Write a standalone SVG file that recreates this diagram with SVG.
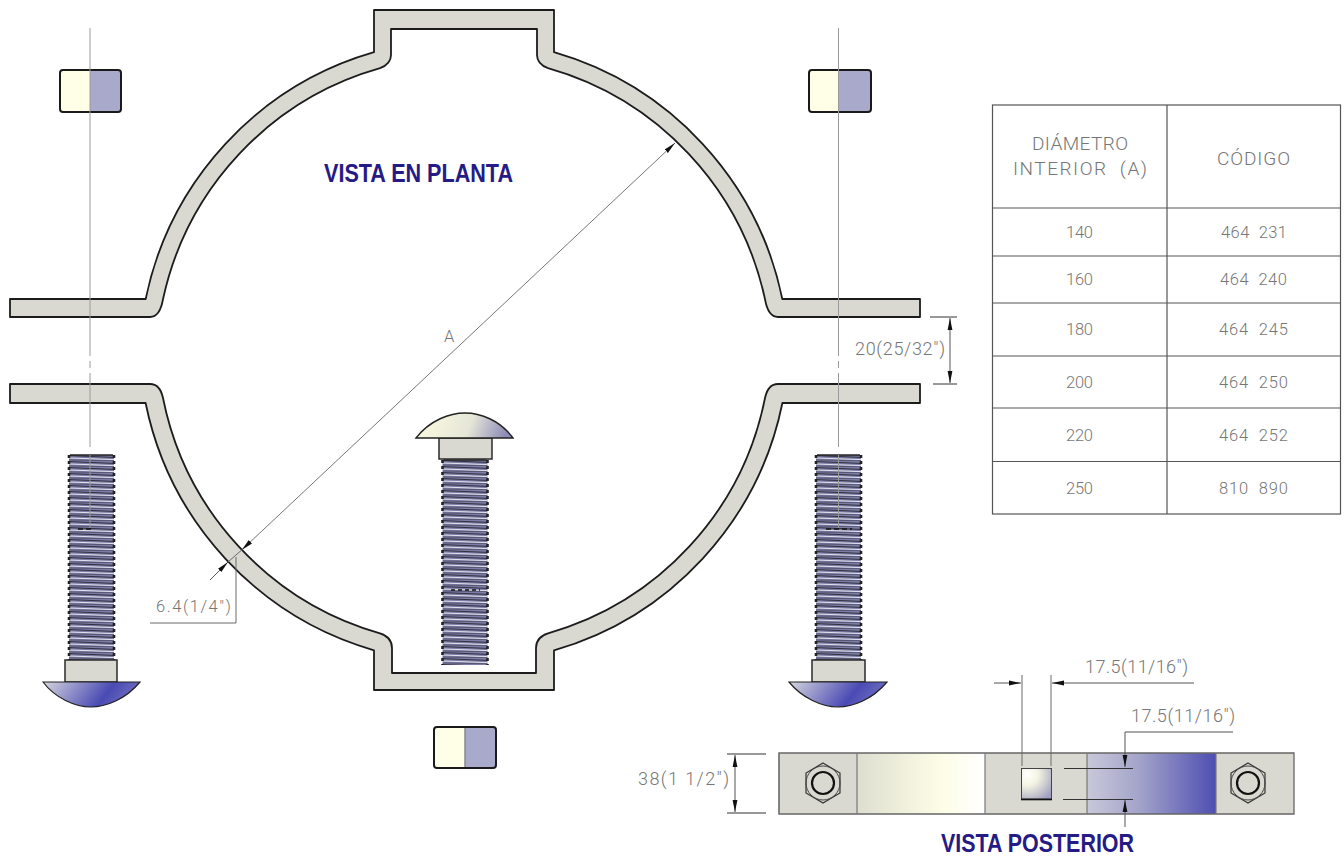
<svg xmlns="http://www.w3.org/2000/svg" xmlns:xlink="http://www.w3.org/1999/xlink" width="1344" height="858" viewBox="0 0 1344 858">
<style>
.body{fill:#d9d9d1;stroke:#1c1c1c;stroke-width:1.8;stroke-linejoin:round}
.plain{fill:#d9d9d1;stroke:#2a2a2a;stroke-width:1.5}
.cl{stroke:#9a9a9a;stroke-width:1;fill:none}
.dim{stroke:#6a6a6a;stroke-width:1;fill:none}
.dimd{stroke:#333;stroke-width:1;fill:none}
.ar{stroke:#555;stroke-width:1;fill:none;marker-start:url(#ah);marker-end:url(#ah)}
.ar1{stroke:#555;stroke-width:1;fill:none;marker-end:url(#ah)}
.t{font-family:Roboto,"Liberation Sans",Arial,sans-serif;font-weight:300;fill:#767676;font-size:16.5px}
.d{font-family:Roboto,"Liberation Sans",Arial,sans-serif;font-weight:300;fill:#767676;font-size:18px}
.hd{font-family:Roboto,"Liberation Sans",Arial,sans-serif;font-weight:300;fill:#767676;font-size:19px}
.title{font-family:"Liberation Sans",Arial,sans-serif;font-weight:700;fill:#261a86;font-size:26px}
.grid{stroke:#555;stroke-width:1.2;fill:none}
.nutl{stroke:#1a1a1a;stroke-width:2;fill:none}
</style>
<defs>
<marker id="ah" markerUnits="userSpaceOnUse" markerWidth="13" markerHeight="6" refX="12" refY="3" orient="auto-start-reverse"><path d="M0,0.6 L12,3 L0,5.4Z" fill="#111"/></marker>
<linearGradient id="headB" x1="0" y1="0" x2="1" y2="0.2"><stop offset="0" stop-color="#d6d6de"/><stop offset=".72" stop-color="#4a4ab4"/><stop offset="1" stop-color="#6c6cc0"/></linearGradient>
<linearGradient id="headY" x1="0" y1="0" x2="1" y2="0.1"><stop offset="0" stop-color="#fcfce0"/><stop offset=".6" stop-color="#e6e6d8"/><stop offset="1" stop-color="#8c8cb8"/></linearGradient>
<linearGradient id="gy" x1="0" y1="0" x2="1" y2="0"><stop offset="0" stop-color="#deded0"/><stop offset=".65" stop-color="#fdfde6"/><stop offset="1" stop-color="#ffffff"/></linearGradient>
<linearGradient id="gb" x1="0" y1="0" x2="1" y2="0"><stop offset="0" stop-color="#c8c8da"/><stop offset=".4" stop-color="#a4a4ca"/><stop offset="1" stop-color="#4e4eb2"/></linearGradient>
<radialGradient id="gs" cx=".2" cy=".2" r="1"><stop offset="0" stop-color="#ffffff"/><stop offset=".35" stop-color="#f4f4e4"/><stop offset=".6" stop-color="#d4d4d4"/><stop offset="1" stop-color="#9e9ec0"/></radialGradient>
<pattern id="th" patternUnits="userSpaceOnUse" width="45" height="6">
<rect width="45" height="6" fill="#7c7ca6"/>
<path d="M0,0.6 L45,2.4" stroke="#2e2e3c" stroke-width="1" fill="none"/>
<path d="M0,3 L45,4.6" stroke="#eeeef4" stroke-width=".9" fill="none"/>
<path d="M0,5 L45,5.8" stroke="#44445a" stroke-width=".7" fill="none"/>
</pattern>
<g id="thread">
<rect x="0" y="0" width="45" height="205" fill="url(#th)"/>
<path d="M0,0 V205 M45,0 V205" stroke="#222" stroke-width="2.6" stroke-dasharray="3 3" fill="none"/>
<path d="M1,0 H44" stroke="#222" stroke-width="1.6" fill="none"/>
</g>
</defs>
<rect width="1344" height="858" fill="#ffffff"/>

<g id="clamp-top">
<path class="body" d="M10,299 H145.700 A325,325 0 0 1 374,52.200 V10 H554 V52.200 A325,325 0 0 1 782.300,299 H920 V317 H778 Q768,317 765,299.200 A308,308 0 0 0 548,68.200 Q537,64 537,55 V29 H391 V55 Q391,64 380,68.200 A308,308 0 0 0 163,299.200 Q160,317 150,317 H10 Z"/>
</g>
<g id="clamp-bottom">
<path class="body" d="M10,384 H150 Q160,384 163,398 A307,307 0 0 0 380,633.300 Q392,637 392,648 V673 H536 V648 Q536,637 548,633.300 A307,307 0 0 0 765,398 Q768,384 778,384 H920 V403 H782.400 A325,325 0 0 1 554,650.300 V690 H374 V650.300 A325,325 0 0 1 145.600,403 H10 Z"/>
</g>

<g id="nut-top-left">
<rect x="60.500" y="70.500" width="30" height="41.500" fill="#ffffe8"/><rect x="90" y="70.500" width="30.500" height="41.500" fill="#a9a9cb"/>
<rect class="nutl" x="60" y="70" width="61" height="42" rx="3"/>
</g>
<g id="nut-top-right">
<rect x="809.500" y="70.500" width="30" height="41.500" fill="#ffffe8"/><rect x="839" y="70.500" width="31.500" height="41.500" fill="#a9a9cb"/>
<rect class="nutl" x="809" y="70" width="62" height="42" rx="3"/>
</g>
<g id="nut-bottom">
<rect x="434.500" y="727.500" width="30" height="40" fill="#ffffe8"/><rect x="465" y="727.500" width="31" height="40" fill="#a9a9cb"/>
<path d="M465,728 V767" stroke="#8a8a8a" stroke-width="1.5"/>
<rect class="nutl" x="434" y="727" width="62" height="41" rx="3"/>
</g>

<g id="bolt-left">
<use xlink:href="#thread" href="#thread" transform="translate(69,455)"/>
<path d="M78,529 H94" stroke="#111" stroke-width="1.5" stroke-dasharray="5 3"/>
<rect class="plain" x="65" y="660" width="52" height="22"/>
<path d="M43,682 H140 C125,700 105,707 91,707 C75,707 55,698 43,682Z" fill="url(#headB)" stroke="#222" stroke-width="1.2"/>
</g>
<g id="bolt-middle">
<use xlink:href="#thread" href="#thread" transform="translate(442.500,460)"/>
<path d="M451,590 H480" stroke="#111" stroke-width="1.5" stroke-dasharray="4 3"/>
<rect class="plain" x="439" y="438" width="53" height="21"/>
<path d="M416,438 C430,420 450,413 465,413 C480,413 500,420 513,438Z" fill="url(#headY)" stroke="#222" stroke-width="1.4"/>
</g>
<g id="bolt-right">
<use xlink:href="#thread" href="#thread" transform="translate(816,455)"/>
<path d="M826,529 H852" stroke="#111" stroke-width="1.5" stroke-dasharray="5 3"/>
<rect class="plain" x="812" y="660" width="53" height="22"/>
<path d="M789,682 H887 C872,700 852,707 838,707 C822,707 802,698 789,682Z" fill="url(#headB)" stroke="#222" stroke-width="1.2"/>
</g>

<g id="centerlines">
<path class="cl" d="M90,28 V356 M90,361 V368 M90,373 V447 M90,455 V528"/>
<path class="cl" d="M838.500,28 V356 M838.500,361 V368 M838.500,373 V447 M838.500,455 V528"/>
</g>

<g id="back-view">
<rect x="779" y="753" width="78" height="61" fill="#d9d9d1"/>
<rect x="857" y="753" width="128" height="61" fill="url(#gy)"/>
<rect x="985" y="753" width="102" height="61" fill="#d9d9d1"/>
<rect x="1087" y="753" width="129" height="61" fill="url(#gb)"/>
<rect x="1216" y="753" width="78" height="61" fill="#d9d9d1"/>
<path d="M779,753 H1294 V814 H779Z" fill="none" stroke="#666" stroke-width="1.3"/>
<path d="M779,753 V814 M857,753 V814 M985,753 V814 M1087,753 V814 M1216,753 V814" stroke="#777" stroke-width="1.2"/>
<rect x="1021.500" y="768.500" width="30" height="30.500" fill="url(#gs)" stroke="#444" stroke-width="1"/>
<path d="M1021,799.500 H1052" stroke="#111" stroke-width="1.6"/>
<g id="back-nut-left" fill="none">
<polygon points="823,763 840,773 840,793 823,803 806,793 806,773" fill="#d9d9d1" stroke="#333" stroke-width="1.2"/>
<circle cx="823" cy="783" r="17" stroke="#444" stroke-width="1"/>
<circle cx="823" cy="783" r="11" stroke="#111" stroke-width="2.2"/>
</g>
<g id="back-nut-right" fill="none">
<polygon points="1248,763 1265,773 1265,793 1248,803 1231,793 1231,773" fill="#d9d9d1" stroke="#333" stroke-width="1.2"/>
<circle cx="1248" cy="783" r="17" stroke="#444" stroke-width="1"/>
<circle cx="1248" cy="783" r="11" stroke="#111" stroke-width="2.2"/>
</g>
</g>

<g id="connectors">
<path class="ar" d="M241.700,550 L675,143" style="stroke:#777"/>
<path class="ar1" d="M210,580 L228,562"/>
<path class="dim" d="M228,562 L241.700,550"/>
<path class="dim" d="M236,557 V623 H150"/>

<path class="dimd" d="M930,317 H957 M933,384 H957"/>
<path class="ar" d="M950,318 V383"/>

<path class="dimd" d="M727,754 H766 M727,813 H766"/>
<path class="ar" d="M735,755 V812"/>

<path class="dim" d="M1022,675 V766 M1051,675 V766"/>
<path class="ar1" d="M994,683 H1021"/>
<path class="ar1" d="M1194,683 H1052"/>

<path class="ar1" d="M1233,732 H1125 V767"/>
<path class="dimd" d="M1064,768.500 H1133 M1063,799.500 H1133"/>
<path class="ar1" d="M1125,827 V800"/>
</g>

<g id="labels">
<text class="title" x="324" y="182" textLength="189" lengthAdjust="spacingAndGlyphs">VISTA EN PLANTA</text>
<text class="title" x="941" y="852" textLength="193" lengthAdjust="spacingAndGlyphs">VISTA POSTERIOR</text>
<text class="t" x="444" y="342">A</text>
<text class="t" x="156" y="612" textLength="75">6.4(1/4")</text>
<text class="d" x="855" y="355" textLength="90">20(25/32")</text>
<text class="d" x="638" y="785" textLength="91">38(1 1/2")</text>
<text class="d" x="1085" y="673" textLength="103">17.5(11/16")</text>
<text class="d" x="1131" y="722" textLength="104">17.5(11/16")</text>
</g>

<g id="table">
<rect class="grid" x="992.500" y="105" width="348" height="409"/>
<path class="grid" d="M1167,105 V514 M992,208 H1341 M992,256 H1341 M992,303 H1341 M992,356 H1341 M992,408 H1341 M992,461.500 H1341"/>
<text class="hd" x="1032" y="150" textLength="96">DIÁMETRO</text>
<text class="hd" x="1013" y="175" textLength="134" xml:space="preserve">INTERIOR  (A)</text>
<text class="hd" x="1217" y="165" textLength="73">CÓDIGO</text>
<text class="t" x="1066" y="238" textLength="27">140</text>
<text class="t" x="1221" y="238" textLength="66" xml:space="preserve">464  231</text>
<text class="t" x="1066" y="285" textLength="27">160</text>
<text class="t" x="1220" y="285" textLength="67" xml:space="preserve">464  240</text>
<text class="t" x="1066" y="335" textLength="27">180</text>
<text class="t" x="1219" y="335" textLength="69" xml:space="preserve">464  245</text>
<text class="t" x="1066" y="388" textLength="27">200</text>
<text class="t" x="1219" y="388" textLength="69" xml:space="preserve">464  250</text>
<text class="t" x="1066" y="441" textLength="27">220</text>
<text class="t" x="1219" y="441" textLength="69" xml:space="preserve">464  252</text>
<text class="t" x="1066" y="494" textLength="27">250</text>
<text class="t" x="1219" y="494" textLength="69" xml:space="preserve">810  890</text>
</g>
</svg>
